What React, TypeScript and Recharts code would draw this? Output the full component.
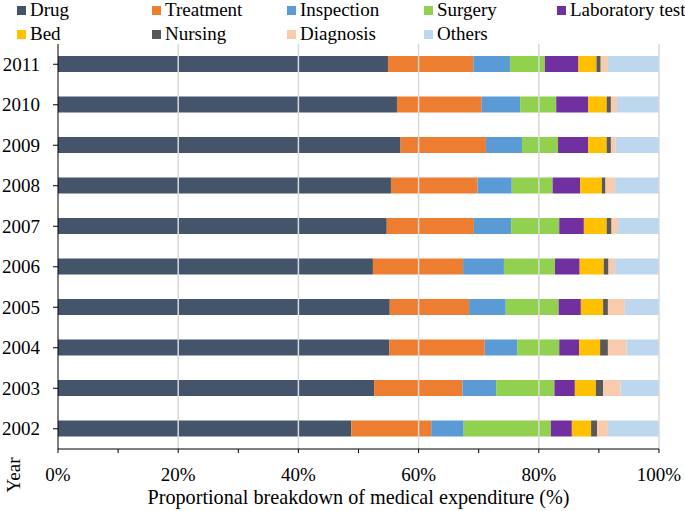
import React from 'react';
import { BarChart, Bar, XAxis, YAxis, ReferenceLine } from 'recharts';

const years = ['2002', '2003', '2004', '2005', '2006', '2007', '2008', '2009', '2010', '2011'];
const drug = [48.8, 52.6, 55.1, 55.2, 52.4, 54.7, 55.4, 57.0, 56.4, 54.9];
const treatment = [13.3, 14.7, 15.9, 13.2, 15.0, 14.5, 14.4, 14.2, 14.1, 14.2];
const inspection = [5.4, 5.6, 5.4, 6.1, 6.8, 6.2, 5.7, 6.0, 6.4, 6.1];
const surgery = [14.5, 9.7, 7.0, 8.8, 8.5, 8.0, 6.8, 6.0, 6.0, 5.8];
const laboratory = [3.5, 3.4, 3.3, 3.7, 4.1, 4.1, 4.6, 5.0, 5.3, 5.6];
const bed = [3.2, 3.5, 3.5, 3.7, 4.0, 3.8, 3.6, 3.1, 3.1, 3.0];
const nursing = [1.0, 1.2, 1.3, 0.8, 0.8, 0.8, 0.6, 0.7, 0.7, 0.7];
const diagnosis = [1.8, 2.9, 3.1, 2.8, 1.1, 1.1, 1.6, 0.8, 1.0, 1.2];
const others = [8.5, 6.4, 5.4, 5.7, 7.3, 6.8, 7.3, 7.2, 7.0, 8.5];

const seriesKeys = ['drug', 'treatment', 'inspection', 'surgery', 'laboratory', 'bed', 'nursing', 'diagnosis', 'others'];
const seriesNames = ['Drug', 'Treatment', 'Inspection', 'Surgery', 'Laboratory test', 'Bed', 'Nursing', 'Diagnosis', 'Others'];
const seriesColors = ['#44546A', '#ED7D31', '#5B9BD5', '#92D050', '#7030A0', '#FFC000', '#595959', '#F8CBAD', '#BDD7EE'];
const seriesValues = [drug, treatment, inspection, surgery, laboratory, bed, nursing, diagnosis, others];

const xTicks = [0, 10, 20, 30, 40, 50, 60, 70, 80, 90, 100];
const gridTicks = [20, 40, 60, 80, 100];

const data = years.map((year, i) => {
  const row: Record<string, any> = { year };
  seriesKeys.forEach((k, j) => {
    row[k] = seriesValues[j][i];
  });
  return row;
});

const FONT = "'Liberation Serif', 'Times New Roman', serif";

const legendCols = [17, 152, 287, 424, 557];
const legendRows = [10, 34];

export default function App() {
  return (
    <div style={{ position: 'absolute', left: 0, top: 0, width: 685, height: 511, background: '#fff', fontFamily: FONT, overflow: 'hidden' }}>
      <div style={{ position: 'absolute', left: 0, top: 0 }}>
        <BarChart
          width={685}
          height={511}
          data={data}
          layout="vertical"
          margin={{ top: 44, right: 26, bottom: 0, left: 0 }}
          barSize={16}
        >
          <XAxis
            type="number"
            domain={[0, 100]}
            ticks={xTicks}
            interval={0}
            height={62}
            tickSize={4}
            tickMargin={15}
            axisLine={{ stroke: '#000' }}
            tickLine={{ stroke: '#000' }}
            tick={{ fill: '#000', fontSize: 19, fontFamily: FONT }}
            tickFormatter={(v: number) => (v % 20 === 0 ? `${v}%` : '')}
            label={{
              content: () => (
                <text x={358.5} y={504} textAnchor="middle" fill="#000" fontSize={20.2} fontFamily={FONT}>
                  Proportional breakdown of medical expenditure (%)
                </text>
              ),
            }}
          />
          <YAxis
            type="category"
            dataKey="year"
            reversed
            width={58}
            tickSize={5}
            tickMargin={13}
            axisLine={{ stroke: '#000' }}
            tickLine={{ stroke: '#000' }}
            tick={{ fill: '#000', fontSize: 19, fontFamily: FONT }}
            label={{
              content: () => (
                <text
                  x={13}
                  y={475}
                  transform="rotate(-90 13 475)"
                  textAnchor="middle"
                  dominantBaseline="central"
                  fill="#000"
                  fontSize={19}
                  fontFamily={FONT}
                >
                  Year
                </text>
              ),
            }}
          />
          {gridTicks.map((t) => (
            <ReferenceLine key={t} x={t} stroke="#D9D9D9" strokeWidth={1.5} />
          ))}
          {seriesKeys.map((k, i) => (
            <Bar key={k} dataKey={k} name={seriesNames[i]} stackId="a" fill={seriesColors[i]} isAnimationActive={false} />
          ))}
        </BarChart>
      </div>
      {seriesNames.map((name, i) => {
        const col = i % 5;
        const row = Math.floor(i / 5);
        const x = legendCols[col];
        const y = legendRows[row];
        return (
          <div key={name} style={{ position: 'absolute', left: x, top: y - 10, height: 20, display: 'flex', alignItems: 'center', whiteSpace: 'nowrap' }}>
            <div style={{ width: 9, height: 9, background: seriesColors[i], marginRight: 4, flexShrink: 0 }} />
            <span style={{ fontSize: 19, color: '#000', lineHeight: '20px' }}>{name}</span>
          </div>
        );
      })}
    </div>
  );
}
